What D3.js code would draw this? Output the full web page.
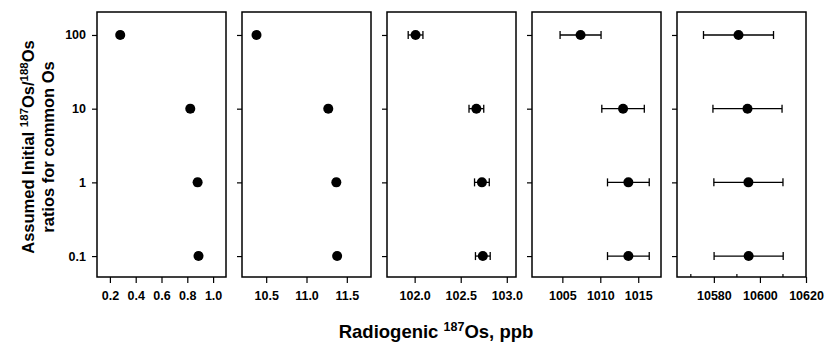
<!DOCTYPE html>
<html>
<head>
<meta charset="utf-8">
<script src="https://cdn.jsdelivr.net/npm/d3@7"></script>
<style>
    body { margin: 0; background: #fff; }
    svg { display: block; font-family: 'Liberation Sans', Arial, sans-serif; font-weight: bold; }
    .tick text { font-size: 12.5px; font-weight: bold; fill: #000; }
    .tick line { stroke: #000; stroke-width: 1.2; }
</style>
</head>
<body>
<div id="chart-area"></div>
<script>
// assumed initial 187Os/188Os ratios (y categories, log scale)
const ratios = [100, 10, 1, 0.1];

// radiogenic 187Os for each panel, ppb
const osPanel1 = [0.28, 0.823, 0.88, 0.887];
const osPanel2 = [10.38, 11.27, 11.37, 11.38];
const osPanel3 = [102.01, 102.67, 102.73, 102.74];
const osPanel4 = [1007.4, 1013.0, 1013.7, 1013.7];
const osPanel5 = [10590.7, 10594.6, 10595.0, 10595.1];

// error bar half widths
const errPanel1 = [0.02, 0.02, 0.02, 0.02];
const errPanel2 = [0.03, 0.03, 0.03, 0.03];
const errPanel3 = [0.08, 0.08, 0.08, 0.08];
const errPanel4 = [2.7, 2.8, 2.75, 2.75];
const errPanel5 = [15.2, 15.0, 15.0, 15.0];

// x domains and tick labels
const domains = [[0.1, 1.1], [10.2, 11.8], [101.7, 103.1], [1001, 1018], [10564, 10620]];
const xTicks = [
    [0.2, 0.4, 0.6, 0.8, 1.0],
    [10.5, 11.0, 11.5],
    [102.0, 102.5, 103.0],
    [1005, 1010, 1015],
    [10580, 10600, 10620]
];
const xFormats = ['.1f', '.1f', '.1f', 'd', 'd'];
const minorTicks5 = [10570, 10590, 10610];

const w = 826;
const h = 347;

const svg = d3.select('#chart-area')
    .append('svg')
    .attr('width', w)
    .attr('height', h);

const plotTop = 12;
const plotBottom = 277;
const panelW = 129;
const panelStep = 145;
const firstLeft = 97;

const y = d3.scaleLog()
    .domain([0.052, 205])
    .range([plotBottom, plotTop]);

const panels = [
    { vals: osPanel1, errs: errPanel1 },
    { vals: osPanel2, errs: errPanel2 },
    { vals: osPanel3, errs: errPanel3 },
    { vals: osPanel4, errs: errPanel4 },
    { vals: osPanel5, errs: errPanel5 }
];

function drawPanel(p, i) {
    const left = firstLeft + i * panelStep;
    const g = svg.append('g');

    const x = d3.scaleLinear()
        .domain(domains[i])
        .range([left, left + panelW]);

    const xAxis = g.append('g')
        .attr('transform', `translate(0,${plotBottom})`)
        .call(d3.axisBottom(x)
            .tickValues(xTicks[i])
            .tickFormat(d3.format(xFormats[i]))
            .tickSizeOuter(0)
            .tickSize(6)
            .tickPadding(8));
    xAxis.select('.domain').remove();

    const yAxis = g.append('g')
        .attr('transform', `translate(${left},0)`)
        .call(d3.axisLeft(y)
            .tickValues(ratios)
            .tickFormat(i === 0 ? d3.format('') : () => '')
            .tickSizeOuter(0)
            .tickSize(5)
            .tickPadding(6));
    yAxis.select('.domain').remove();

    if (i === 4) {
        g.selectAll('line.minor')
            .data(minorTicks5)
            .enter()
            .append('line')
            .attr('class', 'minor')
            .attr('x1', (d) => x(d))
            .attr('x2', (d) => x(d))
            .attr('y1', plotBottom)
            .attr('y2', plotBottom - 3)
            .attr('stroke', '#000')
            .attr('stroke-width', 1.2);
    }

    g.append('rect')
        .attr('x', left)
        .attr('y', plotTop)
        .attr('width', panelW)
        .attr('height', plotBottom - plotTop)
        .attr('fill', 'none')
        .attr('stroke', '#000')
        .attr('stroke-width', 1.5);

    const rows = ratios.map((r, k) => ({ r: r, v: p.vals[k], e: p.errs[k] }));

    const bars = g.selectAll('g.err')
        .data(rows)
        .enter()
        .append('g')
        .attr('class', 'err')
        .attr('stroke', '#000')
        .attr('stroke-width', 1.3);

    bars.append('line')
        .attr('x1', (d) => x(d.v - d.e))
        .attr('x2', (d) => x(d.v + d.e))
        .attr('y1', (d) => y(d.r))
        .attr('y2', (d) => y(d.r));
    bars.append('line')
        .attr('x1', (d) => x(d.v - d.e))
        .attr('x2', (d) => x(d.v - d.e))
        .attr('y1', (d) => y(d.r) - 4)
        .attr('y2', (d) => y(d.r) + 4);
    bars.append('line')
        .attr('x1', (d) => x(d.v + d.e))
        .attr('x2', (d) => x(d.v + d.e))
        .attr('y1', (d) => y(d.r) - 4)
        .attr('y2', (d) => y(d.r) + 4);

    g.selectAll('circle')
        .data(rows)
        .enter()
        .append('circle')
        .attr('cx', (d) => x(d.v))
        .attr('cy', (d) => y(d.r))
        .attr('r', 5)
        .attr('fill', '#000');
}

panels.forEach(drawPanel);

// axis titles
const xTitle = svg.append('text')
    .attr('x', 436)
    .attr('y', 338)
    .attr('text-anchor', 'middle')
    .attr('font-size', 18.5);
xTitle.append('tspan').text('Radiogenic ');
xTitle.append('tspan').attr('font-size', 12.5).attr('dy', -7).text('187');
xTitle.append('tspan').attr('dy', 7).text('Os, ppb');

const yTitle1 = svg.append('text')
    .attr('transform', 'translate(34,147) rotate(-90)')
    .attr('text-anchor', 'middle')
    .attr('font-size', 16.5);
yTitle1.append('tspan').text('Assumed Initial ');
yTitle1.append('tspan').attr('font-size', 11.5).attr('dy', -6).text('187');
yTitle1.append('tspan').attr('dy', 6).text('Os/');
yTitle1.append('tspan').attr('font-size', 11.5).attr('dy', -6).text('188');
yTitle1.append('tspan').attr('dy', 6).text('Os');

svg.append('text')
    .attr('transform', 'translate(54,147) rotate(-90)')
    .attr('text-anchor', 'middle')
    .attr('font-size', 16.5)
    .text('ratios for common Os');
</script>
</body>
</html>
